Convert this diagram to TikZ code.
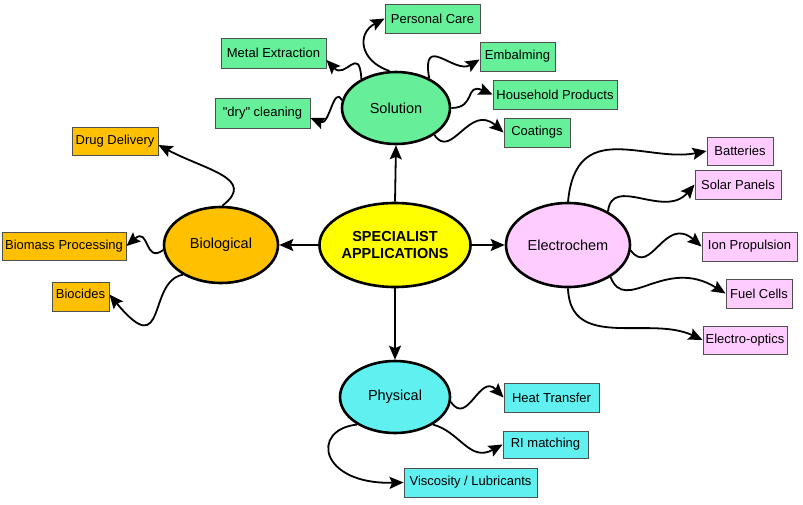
\documentclass[tikz,border=0pt]{standalone}
\usepackage{fontspec}
\setmainfont{Liberation Sans}[Ligatures=TeXOff]
\usetikzlibrary{arrows.meta,shapes.geometric}
\definecolor{solfill}{HTML}{66EE99}
\definecolor{solbox}{HTML}{66F09A}
\definecolor{biofill}{HTML}{FFC000}
\definecolor{elfill}{HTML}{FFCCFF}
\definecolor{phfill}{HTML}{60F0F0}
\definecolor{cenfill}{HTML}{FFFF00}
\definecolor{boxline}{HTML}{505050}
\tikzset{
  hub/.style={ellipse, draw=black, line width=2.6pt, inner sep=0pt, font=\fontsize{14.5}{17}\selectfont},
  leaf/.style={rectangle, draw=boxline, line width=0.9pt, inner sep=0pt, font=\fontsize{13}{15}\selectfont},
  link/.style={line width=1.8pt, -{Stealth[length=14pt,width=12pt,inset=2.5pt]}}
}
\begin{document}
\begin{tikzpicture}[x=1pt,y=-1pt]
\useasboundingbox (0,0) rectangle (803,504);
% hubs
\node[hub, fill=cenfill, minimum width=124pt, minimum height=84pt, align=center, font=\fontsize{14.5}{17}\selectfont\bfseries] (cen) at (395,245) {SPECIALIST\\APPLICATIONS};
\node[hub, fill=solfill, minimum width=108pt, minimum height=72pt] (sol) at (396,108) {Solution};
\node[hub, fill=biofill, minimum width=114pt, minimum height=76pt] (bio) at (221,245) {Biological};
\node[hub, fill=elfill, minimum width=124pt, minimum height=84pt] (el) at (568,245) {Electrochem};
\node[hub, fill=phfill, minimum width=110pt, minimum height=72pt] (ph) at (395,397) {Physical};
% solution leaves
\node[leaf, fill=solbox, minimum width=95pt, minimum height=29pt] (pc) at (432.5,18.5) {Personal Care};
\node[leaf, fill=solbox, minimum width=105pt, minimum height=30pt] (me) at (273.5,53) {Metal Extraction};
\node[leaf, fill=solbox, minimum width=75pt, minimum height=29pt] (emb) at (517.5,56.5) {Embalming};
\node[leaf, fill=solbox, minimum width=124pt, minimum height=29pt] (hh) at (555,94.5) {Household Products};
\node[leaf, fill=solbox, minimum width=95pt, minimum height=30pt] (dry) at (262.5,113) {"dry" cleaning};
\node[leaf, fill=solbox, minimum width=66pt, minimum height=29pt] (coat) at (537,132.5) {Coatings};
% biological leaves
\node[leaf, fill=biofill, minimum width=86pt, minimum height=28pt] (drug) at (115,141) {Drug Delivery};
\node[leaf, fill=biofill, minimum width=124pt, minimum height=28pt] (bm) at (64,246) {Biomass Processing};
\node[leaf, fill=biofill, minimum width=57pt, minimum height=29pt] (bc) at (80.5,296.5) {\raisebox{6pt}{Biocides}};
% electrochem leaves
\node[leaf, fill=elfill, minimum width=66pt, minimum height=28pt] (bat) at (740,151) {Batteries};
\node[leaf, fill=elfill, minimum width=86pt, minimum height=29pt] (solar) at (738,184.5) {Solar Panels};
\node[leaf, fill=elfill, minimum width=95pt, minimum height=29pt] (ion) at (749.5,246.5) {Ion Propulsion};
\node[leaf, fill=elfill, minimum width=66pt, minimum height=29pt] (fuel) at (759,293.5) {Fuel Cells};
\node[leaf, fill=elfill, minimum width=84pt, minimum height=28pt] (eo) at (745,340) {Electro-optics};
% physical leaves
\node[leaf, fill=phfill, minimum width=95pt, minimum height=29pt] (ht) at (551.5,397.5) {Heat Transfer};
\node[leaf, fill=phfill, minimum width=85pt, minimum height=27pt] (ri) at (545.5,444.5) {RI matching};
\node[leaf, fill=phfill, minimum width=133pt, minimum height=29pt] (visc) at (470.5,482.5) {Viscosity / Lubricants};
% straight links
\draw[link] (cen.north) -- (sol.south);
\draw[link] (cen.west) -- (bio.east);
\draw[link] (cen.east) -- (el.west);
\draw[link] (cen.south) -- (ph.north);
% solution links
\draw[link] (sol.100) .. controls +(-30,-10) and +(-28,15) .. (pc.west);
\draw[link] (sol.140) .. controls +(-2,-35) and +(19,20) .. ([yshift=-7pt]me.east);
\draw[link] (sol.42) .. controls +(-8,-46) and +(-25,15) .. ([yshift=-3pt]emb.west);
\draw[link] (sol.0) .. controls +(25,0) and +(-28,-12) .. (hh.west);
\draw[link] (sol.-35) .. controls +(17,26) and +(-34,-30) .. (coat.west);
\draw[link] (sol.172) .. controls +(-8,-16) and +(19,8) .. ([yshift=-5pt]dry.east);
% biological links
\draw[link] (bio.88) .. controls +(35,-27) and +(47,25) .. ([yshift=-4pt]drug.east);
\draw[link] (bio.185) .. controls +(-19,14) and +(23,-20) .. (bm.east);
\draw[link] (bio.218) .. controls +(-36,6) and +(58,70) .. ([yshift=2pt]bc.east);
% electrochem links
\draw[link] (el.90) .. controls +(8,-85) and +(-60,12) .. (bat.west);
\draw[link] (el.40) .. controls +(4,-37) and +(-30,35) .. (solar.west);
\draw[link] (el.-5) .. controls +(20,27) and +(-37,-32) .. (ion.west);
\draw[link] (el.-37) .. controls +(15,38) and +(-61,-38) .. (fuel.west);
\draw[link] (el.-90) .. controls +(2,63) and +(-53,-25) .. (eo.west);
% physical links
\draw[link] (ph.-5) .. controls +(17,25) and +(-24,-25) .. (ht.west);
\draw[link] (ph.-36) .. controls +(27,7) and +(-33,18) .. (ri.west);
\draw[link] (ph.216) .. controls +(-47,5) and +(-84,2) .. (visc.west);
\end{tikzpicture}
\end{document}
